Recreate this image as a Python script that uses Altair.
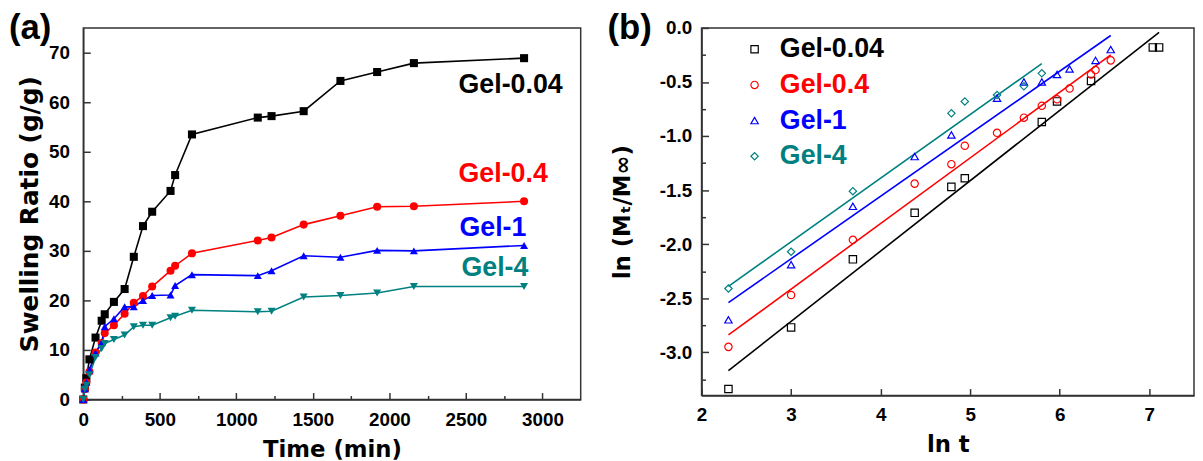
import altair as alt
import pandas as pd

# ---------------- data ----------------
series = ["Gel-0.04", "Gel-0.4", "Gel-1", "Gel-4"]
colors = ["#000000", "#ff0000", "#0000ff", "#008080"]

# panel (a): swelling ratio vs time
time_min = [0, 10, 20, 40, 80, 120, 140, 200, 270, 330, 390, 450, 570, 600, 710,
            1140, 1230, 1440, 1680, 1920, 2160, 2880]
ratio_004 = [0, 2.4, 4.3, 8.1, 12.5, 15.9, 17.2, 19.7, 22.3, 28.8, 35.0, 37.9, 42.1, 45.3, 53.5,
             56.9, 57.2, 58.2, 64.3, 66.1, 67.9, 68.9]
ratio_04 = [0, 2.1, 3.4, 5.6, 9.5, 11.4, 13.4, 15.0, 17.3, 19.5, 20.9, 22.8, 26.0, 27.0, 29.5,
            32.1, 32.7, 35.3, 37.1, 38.9, 39.0, 40.0]
ratio_1 = [0, 2.1, 3.5, 6.0, 9.4, 11.5, 14.7, 16.3, 18.7, 18.7, 20.0, 21.0, 21.1, 23.0, 25.2,
           25.0, 26.0, 29.0, 28.7, 30.1, 30.0, 31.1]
ratio_4 = [0, 2.05, 2.9, 5.0, 8.5, 10.3, 11.3, 12.1, 13.0, 14.7, 15.0, 15.0, 16.5, 16.8, 18.0,
           17.7, 17.8, 20.7, 21.0, 21.5, 22.8, 22.8]

# panel (b): ln(Mt/Minf) vs ln t
lnt_004 = [2.30, 3.00, 3.69, 4.38, 4.79, 4.94, 5.80, 5.97, 6.35, 7.04, 7.11]
ln_004 = [-3.34, -2.77, -2.14, -1.71, -1.47, -1.39, -0.87, -0.68, -0.49, -0.18, -0.18]
lnt_04 = [2.30, 3.00, 3.69, 4.38, 4.79, 4.94, 5.30, 5.60, 5.80, 5.97, 6.11, 6.35, 6.40, 6.57]
ln_04 = [-2.95, -2.47, -1.96, -1.44, -1.26, -1.09, -0.97, -0.83, -0.72, -0.66, -0.56, -0.43, -0.39, -0.30]
lnt_1 = [2.30, 3.00, 3.69, 4.38, 4.79, 5.30, 5.60, 5.80, 5.97, 6.11, 6.40, 6.57]
ln_1 = [-2.70, -2.19, -1.65, -1.19, -0.99, -0.65, -0.50, -0.50, -0.43, -0.38, -0.30, -0.20]
lnt_4 = [2.30, 3.00, 3.69, 4.79, 4.94, 5.30, 5.60, 5.80]
ln_4 = [-2.41, -2.07, -1.51, -0.79, -0.68, -0.62, -0.54, -0.42]

# fitted lines (start / end)
fit_x0 = [2.30, 2.30, 2.30, 2.30]
fit_y0 = [-3.17, -2.84, -2.54, -2.39]
fit_x1 = [7.11, 6.57, 6.57, 5.80]
fit_y1 = [-0.04, -0.25, -0.07, -0.33]

# ---------------- tables ----------------
rows_a = []
for s, vals in zip(series, [ratio_004, ratio_04, ratio_1, ratio_4]):
    for t, v in zip(time_min, vals):
        rows_a.append({"series": s, "time": t, "ratio": v})
df_a = pd.DataFrame(rows_a)

rows_b = []
for s, xs, ys in zip(series, [lnt_004, lnt_04, lnt_1, lnt_4], [ln_004, ln_04, ln_1, ln_4]):
    for x, y in zip(xs, ys):
        rows_b.append({"series": s, "lnt": x, "lnm": y})
df_b = pd.DataFrame(rows_b)

df_fit = pd.DataFrame({"series": series, "x0": fit_x0, "y0": fit_y0, "x1": fit_x1, "y1": fit_y1})

# annotation anchors (data units) for the direct labels of panel (a)
df_lab = pd.DataFrame({"series": series, "t": [2452, 2452, 2458, 2471], "v": [63.4, 45.6, 34.6, 26.6]})

# ---------------- styling helpers ----------------
LABEL_FONT = "Liberation Sans"
TITLE_FONT = "DejaVu Sans"
AX = "#333333"


def axis(title, values, major_test, title_size, label_pad, title_pad, fmt):
    return alt.Axis(
        title=title, values=values, format=fmt,
        labelExpr=f"({major_test}) ? (datum.value < 0 ? '-' : '') + format(abs(datum.value), '{fmt}') : ''",
        tickSize={"expr": f"({major_test}) ? -7 : -4"},
        tickColor=AX, tickWidth=1.5, domainColor=AX, domainWidth=1.5,
        labelFont=LABEL_FONT, labelFontSize=19, labelFontWeight="bold", labelColor="black",
        labelPadding=label_pad, labelFlush=False, labelOverlap=False,
        titleFont=TITLE_FONT, titleFontSize=title_size, titleFontWeight="bold", titleColor="black",
        titlePadding=title_pad, grid=False,
    )


color_scale = alt.Scale(domain=series, range=colors)

# ---------------- panel (a) ----------------
ax_a = axis("Time (min)", list(range(0, 3001, 250)), "datum.value % 500 === 0", 23, 18, 7, "d")
ay_a = axis("Swelling Ratio (g/g)", list(range(0, 76, 5)), "datum.value % 10 === 0", 25, 21, 6, "d")

base_a = alt.Chart(df_a).encode(
    x=alt.X("time:Q", scale=alt.Scale(domain=[0, 3250], nice=False, zero=False), axis=ax_a),
    y=alt.Y("ratio:Q", scale=alt.Scale(domain=[0, 75], nice=False), axis=ay_a),
    color=alt.Color("series:N", scale=color_scale, legend=None),
)
lines_a = base_a.mark_line(strokeWidth=1.6)
points_a = base_a.mark_point(filled=True, size=66, opacity=1).encode(
    shape=alt.Shape("series:N", scale=alt.Scale(domain=series,
                    range=["square", "circle", "triangle-up", "triangle-down"]), legend=None)
)
labels_a = alt.Chart(df_lab).mark_text(
    align="left", baseline="middle", font=LABEL_FONT, fontSize=27, fontWeight="bold"
).encode(
    x="t:Q", y="v:Q", text="series:N",
    color=alt.Color("series:N", scale=color_scale, legend=None),
)
tag_a = alt.Chart(pd.DataFrame({"tag": ["(a)"]})).mark_text(
    align="left", baseline="top", font=LABEL_FONT, fontSize=35, fontWeight="bold", color="black"
).encode(x=alt.value(-75), y=alt.value(-17), text="tag:N")

panel_a = alt.layer(lines_a, points_a, labels_a, tag_a).properties(width=502, height=375)

# ---------------- panel (b) ----------------
ax_b = axis("ln t", [2 + 0.5 * i for i in range(11)], "datum.value % 1 === 0", 23, 17, 10, "d")
ay_b = axis("ln (Mₜ/M∞)", [-0.25 * i for i in range(14)], "datum.value % 0.5 === 0", 23, 17, 25, ".1f")

label_color_expr = " : ".join(
    f"datum.label === '{s}' ? '{c}'" for s, c in zip(series[:-1], colors[:-1])
) + f" : '{colors[-1]}'"

legend_b = alt.Legend(
    title=None, orient="none", legendX=40, legendY=8, padding=0,
    labelFont=LABEL_FONT, labelFontSize=27, labelFontWeight="bold",
    labelColor={"expr": label_color_expr},
    symbolSize=55, symbolStrokeWidth=1.2, rowPadding=8, labelOffset=12,
)

xb_scale = alt.Scale(domain=[2, 7.5], nice=False, zero=False)
yb_scale = alt.Scale(domain=[-3.4, 0.0], nice=False, zero=False)

points_b = alt.Chart(df_b).mark_point(filled=False, size=55, strokeWidth=1.2, opacity=1).encode(
    x=alt.X("lnt:Q", scale=xb_scale, axis=ax_b),
    y=alt.Y("lnm:Q", scale=yb_scale, axis=ay_b),
    color=alt.Color("series:N", scale=color_scale, legend=legend_b),
    shape=alt.Shape("series:N", scale=alt.Scale(domain=series,
                    range=["square", "circle", "triangle-up", "diamond"]), legend=legend_b),
)
fits_b = alt.Chart(df_fit).mark_rule(strokeWidth=1.6).encode(
    x=alt.X("x0:Q", scale=xb_scale, axis=ax_b),
    x2="x1:Q",
    y=alt.Y("y0:Q", scale=yb_scale, axis=ay_b),
    y2="y1:Q",
    color=alt.Color("series:N", scale=color_scale, legend=None),
)
tag_b = alt.Chart(pd.DataFrame({"tag": ["(b)"]})).mark_text(
    align="left", baseline="top", font=LABEL_FONT, fontSize=35, fontWeight="bold", color="black"
).encode(x=alt.value(-95), y=alt.value(-17), text="tag:N")

panel_b = alt.layer(fits_b, points_b, tag_b).resolve_scale(
    color="independent", shape="independent"
).properties(width=497, height=371)

chart = alt.hconcat(panel_a, panel_b, spacing=25).resolve_scale(
    color="independent", shape="independent"
).properties(padding=0, background="white").configure_view(
    stroke=AX, strokeWidth=1.5
)

chart.save("out.html", embed_options={"renderer": "svg", "actions": False})
